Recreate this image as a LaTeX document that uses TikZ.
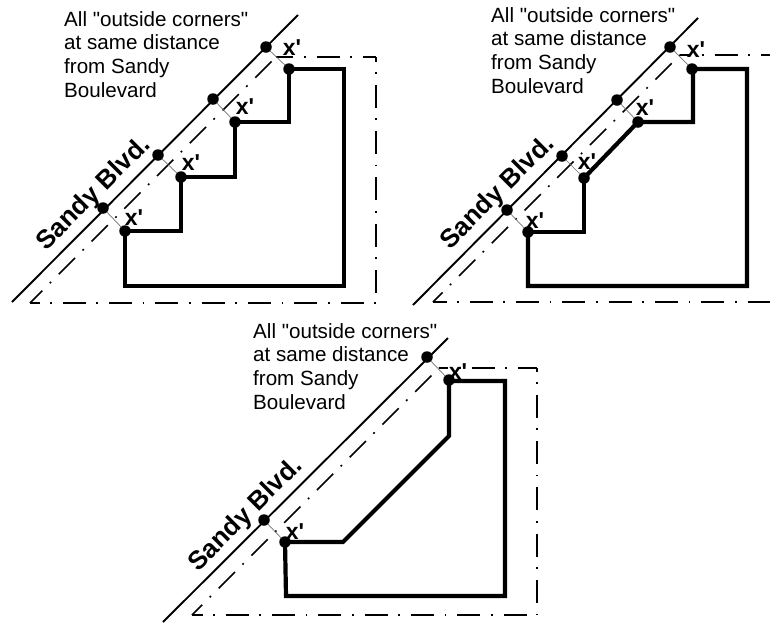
\documentclass[tikz,border=0pt]{standalone}
\usepackage{fontspec}
\newfontfamily\plainsans{Liberation Sans}
\tikzset{
  road/.style={line width=1.9pt,black},
  link/.style={line width=0.7pt,black!55},
  wall/.style={line width=4.2pt,black,line join=miter},
  wallmid/.style={line width=3.3pt,black},
  setback/.style={line width=1.7pt,black,dash pattern=on 23pt off 10.5pt on 1.8pt off 11pt,dash phase=#1},
  dot/.style={circle,fill=black,inner sep=0pt,minimum size=11.5pt},
  note/.style={align=left,anchor=north west,inner sep=0pt,font=\plainsans\fontsize{20.6}{23.8}\selectfont},
  xlab/.style={inner sep=0pt,font=\plainsans\fontsize{23}{23}\selectfont\bfseries},
  blvd/.style={inner sep=0pt,rotate=45,font=\plainsans\fontsize{26}{26}\selectfont\bfseries},
}
\begin{document}
\begin{tikzpicture}[x=1pt,y=-1pt]
\useasboundingbox (0,0) rectangle (770,622);
\fill[white] (0,0) rectangle (770,622);
% ---------- panel 1
\coordinate (p1a) at (30,303); \coordinate (p1b) at (276,57); \coordinate (p1c) at (376,57); \coordinate (p1d) at (376,303);
\draw[setback=5.5pt] (p1a) -- (p1b);
\draw[setback=5.8pt] (p1b) -- (p1c);
\draw[setback=18.5pt] (p1c) -- (p1d);
\draw[setback=13.5pt] (p1a) -- (p1d);
\coordinate (r1s) at (12,302); \coordinate (r1e) at (298,15);
\draw[road] (r1s) -- (r1e);
\draw[wall] (125,231) -- (181,231) -- (181,177) -- (235,177) -- (235,122) -- (289,122) -- (289,69) -- (344,69) -- (344,286) -- (125,286) -- cycle;
\node[dot] (a1) at (266,47) {}; \node[dot] (a2) at (213,99) {}; \node[dot] (a3) at (158,155) {}; \node[dot] (a4) at (103,208) {};
\node[dot] (b1) at (289,69) {}; \node[dot] (b2) at (235,122) {}; \node[dot] (b3) at (181,177) {}; \node[dot] (b4) at (125,231) {};
\draw[link] (a1) -- (b1); \draw[link] (a2) -- (b2); \draw[link] (a3) -- (b3); \draw[link] (a4) -- (b4);
\node[xlab] (x1) at (292,48) {x'}; \node[xlab] (x2) at (245,107) {x'}; \node[xlab] (x3) at (191,163) {x'}; \node[xlab] (x4) at (134,218) {x'};
\node[note] (t1) at (64,11) {All "outside corners"\\at same distance\\from Sandy\\Boulevard};
\node[blvd] (s1) at (94,194) {Sandy Blvd.};
% ---------- panel 2
\coordinate (p2a) at (433,302); \coordinate (p2b) at (680,55); \coordinate (p2c) at (770,55); \coordinate (p2d) at (770,302);
\draw[setback=9.5pt] (p2a) -- (p2b);
\draw[setback=11.8pt] (p2b) -- (p2c);
\draw[setback=9.5pt] (p2a) -- (p2d);
\coordinate (r2s) at (413,305); \coordinate (r2e) at (698,18);
\draw[road] (r2s) -- (r2e);
\draw[wall] (584,178) -- (638,122) -- (693,122) -- (693,69) -- (747,69) -- (747,286) -- (528,286) -- (528,232);
\draw[wallmid] (528,232) -- (584,232) -- (584,178);
\node[dot] (c1) at (670,47) {}; \node[dot] (c2) at (617,100) {}; \node[dot] (c3) at (562,156) {}; \node[dot] (c4) at (507,210) {};
\node[dot] (d1) at (692,69) {}; \node[dot] (d2) at (638,122) {}; \node[dot] (d3) at (584,178) {}; \node[dot] (d4) at (528,232) {};
\draw[link] (c1) -- (d1); \draw[link] (c2) -- (d2); \draw[link] (c3) -- (d3); \draw[link] (c4) -- (d4);
\node[xlab] (x5) at (696,50) {x'}; \node[xlab] (x6) at (645,108) {x'}; \node[xlab] (x7) at (587,162) {x'}; \node[xlab] (x8) at (535,221) {x'};
\node[note] (t2) at (491,7) {All "outside corners"\\at same distance\\from Sandy\\Boulevard};
\node[blvd] (s2) at (498,193) {Sandy Blvd.};
% ---------- panel 3
\coordinate (p3a) at (192,615); \coordinate (p3b) at (439,368); \coordinate (p3c) at (537,368); \coordinate (p3d) at (537,615);
\draw[setback=8.5pt] (p3a) -- (p3b);
\draw[setback=13.8pt] (p3b) -- (p3c);
\draw[setback=19.5pt] (p3c) -- (p3d);
\draw[setback=12.5pt] (p3a) -- (p3d);
\coordinate (r3s) at (163,622); \coordinate (r3e) at (448,338);
\draw[road] (r3s) -- (r3e);
\draw[wall] (285,542) -- (343,542) -- (449,436) -- (449,381) -- (505,381) -- (505,596) -- (286,596) -- cycle;
\node[dot] (e1) at (427,357) {}; \node[dot] (e2) at (264,520) {};
\node[dot] (f1) at (449,380) {}; \node[dot] (f2) at (285,542) {};
\draw[link] (e1) -- (f1); \draw[link] (e2) -- (f2);
\node[xlab] (x9) at (458,372) {x'}; \node[xlab] (x10) at (295,532) {x'};
\node[note] (t3) at (253,323) {All "outside corners"\\at same distance\\from Sandy\\Boulevard};
\node[blvd] (s3) at (246,515) {Sandy Blvd.};
\end{tikzpicture}
\end{document}
